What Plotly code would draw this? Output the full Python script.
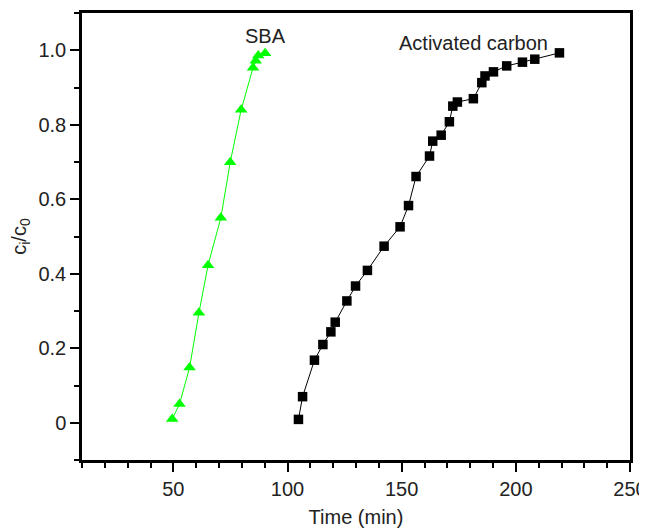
import plotly.graph_objects as go

# SBA breakthrough data
sba_time = [49.5, 52.7, 57.1, 61.2, 65.2, 70.8, 74.9, 79.7, 84.9, 86.1, 87.2, 90.2]
sba_c = [0.01, 0.05, 0.148, 0.295, 0.423, 0.550, 0.699, 0.840, 0.953, 0.972, 0.986, 0.992]

# Activated carbon breakthrough data
ac_time = [104.8, 106.6, 111.8, 115.5, 119.0, 120.9, 126.0, 129.8, 135.0, 142.3,
           149.3, 153.0, 156.3, 162.2, 163.6, 167.3, 170.9, 172.4, 174.4, 181.4,
           185.1, 186.5, 190.2, 196.0, 202.9, 208.3, 219.1]
ac_c = [0.009, 0.070, 0.168, 0.210, 0.244, 0.270, 0.327, 0.367, 0.409, 0.474,
        0.526, 0.583, 0.661, 0.716, 0.756, 0.772, 0.808, 0.850, 0.861, 0.870,
        0.913, 0.931, 0.942, 0.958, 0.968, 0.976, 0.993]

x_ticks = [50, 100, 150, 200, 250]
y_ticks = [0, 0.2, 0.4, 0.6, 0.8, 1.0]
y_tick_labels = ["0", "0.2", "0.4", "0.6", "0.8", "1.0"]

FONT = "Liberation Sans, Arial, sans-serif"
FS = 20

fig = go.Figure()
fig.add_trace(go.Scatter(
    x=sba_time, y=sba_c, mode="lines+markers", name="SBA",
    line=dict(color="#00ff00", width=1),
    marker=dict(symbol="triangle-up", size=11, color="#00ff00"),
    cliponaxis=False,
))
fig.add_trace(go.Scatter(
    x=ac_time, y=ac_c, mode="lines+markers", name="Activated carbon",
    line=dict(color="#000000", width=1),
    marker=dict(symbol="square", size=9.5, color="#000000"),
    cliponaxis=False,
))

fig.add_annotation(x=90.2, y=1.039, text="SBA", showarrow=False,
                   font=dict(family=FONT, size=FS, color="#222"))
fig.add_annotation(x=181.5, y=1.019, text="Activated carbon", showarrow=False,
                   font=dict(family=FONT, size=FS, color="#222"))

axis_common = dict(
    showgrid=False, zeroline=False, automargin=False,
    showline=True, linecolor="#000", linewidth=2.5, mirror=True,
    ticks="outside", ticklen=9, tickwidth=2, tickcolor="#000",
    tickfont=dict(family=FONT, size=FS, color="#222"),
)

fig.update_xaxes(
    range=[10, 250], tickvals=x_ticks,
    minor=dict(ticks="outside", ticklen=5, tickwidth=2, tickcolor="#000", dtick=10, tick0=10),
    title=dict(text="Time (min)", font=dict(family=FONT, size=FS, color="#222"), standoff=12),
    **axis_common,
)
fig.update_yaxes(
    range=[-0.1, 1.1], tickvals=y_ticks, ticktext=y_tick_labels,
    minor=dict(ticks="outside", ticklen=5, tickwidth=2, tickcolor="#000", dtick=0.1, tick0=-0.1),
    title=dict(text="c<sub>i</sub>/c<sub>0</sub>", font=dict(family=FONT, size=FS, color="#222"), standoff=7),
    **axis_common,
)

fig.update_layout(
    width=647, height=530,
    margin=dict(l=74, r=25, t=5, b=78),
    paper_bgcolor="white", plot_bgcolor="white",
    showlegend=False,
)

fig.write_html("out.html")
